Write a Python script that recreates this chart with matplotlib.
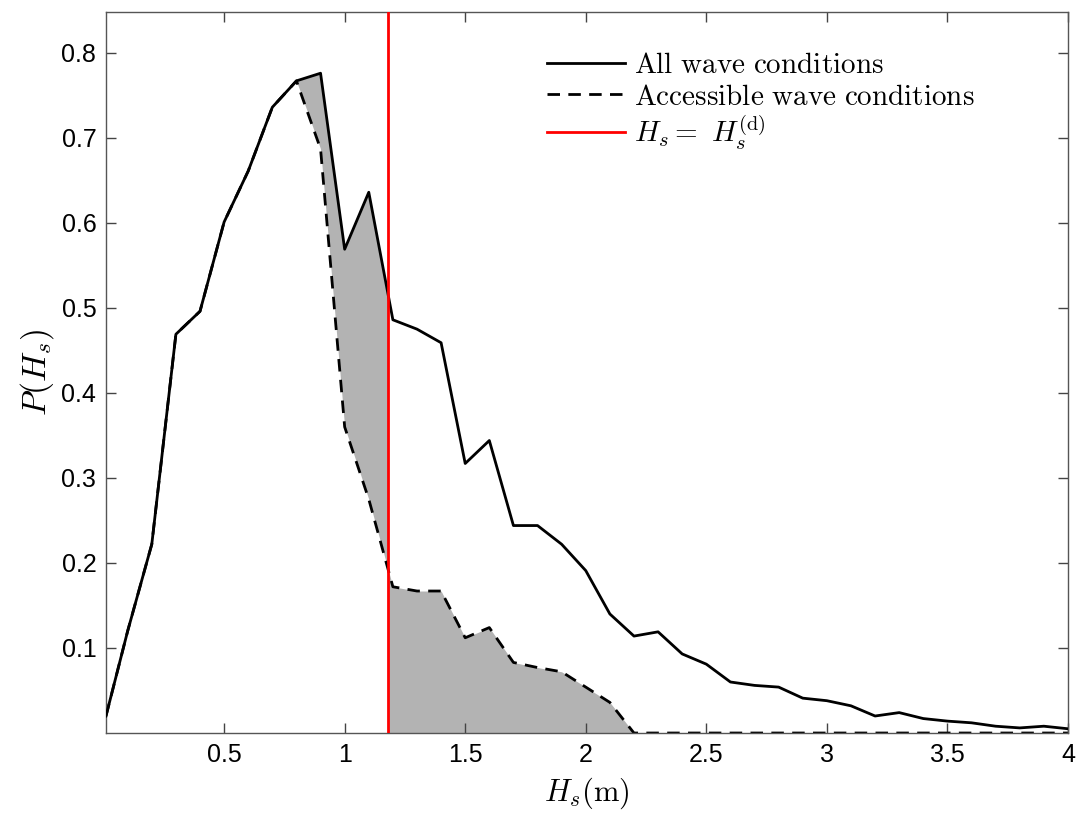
import matplotlib
matplotlib.use("Agg")
import matplotlib.pyplot as plt
import numpy as np

# significant wave height bins (m)
hs = [0.01, 0.1, 0.2, 0.3, 0.4, 0.5, 0.6, 0.7, 0.8, 0.9,
      1.0, 1.1, 1.2, 1.3, 1.4, 1.5, 1.6, 1.7, 1.8, 1.9,
      2.0, 2.1, 2.2, 2.3, 2.4, 2.5, 2.6, 2.7, 2.8, 2.9,
      3.0, 3.1, 3.2, 3.3, 3.4, 3.5, 3.6, 3.7, 3.8, 3.9, 4.0]

# all wave conditions
p_all = [0.020, 0.120, 0.222, 0.469, 0.496, 0.601, 0.661, 0.736, 0.767, 0.776,
         0.569, 0.636, 0.486, 0.475, 0.459, 0.317, 0.344, 0.244, 0.244, 0.222,
         0.191, 0.140, 0.114, 0.119, 0.093, 0.081, 0.060, 0.056, 0.054, 0.041,
         0.038, 0.032, 0.020, 0.024, 0.017, 0.014, 0.012, 0.008, 0.006, 0.008, 0.005]

# accessible wave conditions
p_acc = [0.020, 0.120, 0.222, 0.469, 0.496, 0.601, 0.661, 0.736, 0.767, 0.687,
         0.360, 0.275, 0.172, 0.167, 0.167, 0.112, 0.124, 0.083, 0.077, 0.072,
         0.054, 0.036, 0.0, 0.0, 0.0, 0.0, 0.0, 0.0, 0.0, 0.0,
         0.0, 0.0, 0.0, 0.0, 0.0, 0.0, 0.0, 0.0, 0.0, 0.0, 0.0]

hs_d = 1.18  # design wave height

plt.rcParams['mathtext.fontset'] = 'cm'
plt.rcParams['font.family'] = 'Liberation Sans'

fig = plt.figure(figsize=(10.77, 8.17), dpi=100)
ax = fig.add_axes([0.0984, 0.1028, 0.8932, 0.8825])

x = np.array(hs)
ya = np.array(p_all)
yc = np.array(p_acc)

# shaded area: between curves left of Hs^(d), below accessible curve right of it
xf = np.linspace(0.8, 4.0, 2000)
fa = np.interp(xf, x, ya)
fc = np.interp(xf, x, yc)
left = xf <= hs_d
ax.fill_between(xf[left], fc[left], fa[left], color='#b3b3b3', lw=0, zorder=1)
ax.fill_between(xf[~left], 0, fc[~left], color='#b3b3b3', lw=0, zorder=1)

ax.plot(x, yc, color='black', ls=(0, (4.5, 3)), lw=2, zorder=2,
        label=r'$\mathrm{Accessible\ wave\ conditions}$')
ax.plot(x, ya, color='black', lw=2, zorder=3,
        label=r'$\mathrm{All\ wave\ conditions}$')
ax.axvline(hs_d, color='red', lw=2, zorder=4,
           label=r'$H_s =\ H_s^{(\mathrm{d})}$')

ax.set_xlim(0.01, 4)
ax.set_ylim(0, 0.848)
ax.set_xticks([0.5, 1, 1.5, 2, 2.5, 3, 3.5, 4])
ax.set_xticklabels(['0.5', '1', '1.5', '2', '2.5', '3', '3.5', '4'])
ax.set_yticks([0.1, 0.2, 0.3, 0.4, 0.5, 0.6, 0.7, 0.8])
ax.tick_params(direction='in', top=True, right=True, length=7, width=1,
               color='#444444', labelsize=18, pad=7)
for s in ax.spines.values():
    s.set_color('#555555')
    s.set_linewidth(1.0)

ax.set_xlabel(r'$H_s(\mathrm{m})$', fontsize=22, labelpad=6)
ax.set_ylabel(r'$P(H_s)$', fontsize=24, labelpad=4)

h, l = ax.get_legend_handles_labels()
order = [1, 0, 2]
ax.legend([h[i] for i in order], [l[i] for i in order], loc='upper left',
          bbox_to_anchor=(0.446, 0.962), frameon=False, fontsize=21,
          handlelength=2.7, handletextpad=0.3, labelspacing=0.12,
          borderaxespad=0)

plt.savefig('out.png', dpi=100)
